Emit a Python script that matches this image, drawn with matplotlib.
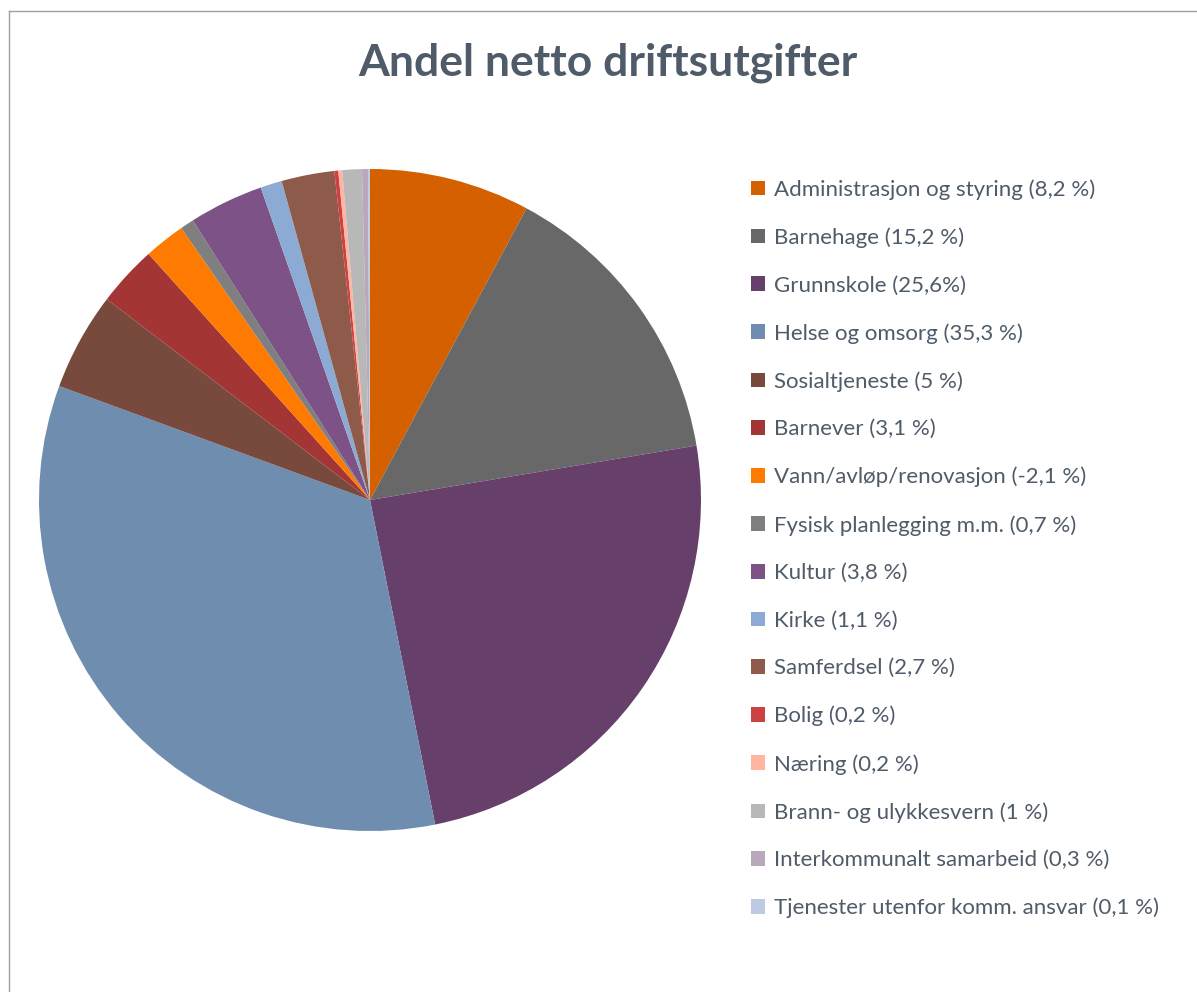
import matplotlib.pyplot as plt
from matplotlib.patches import Patch
import numpy as np

labels = ['Administrasjon og styring (8,2 %)', 'Barnehage (15,2 %)', 'Grunnskole (25,6%)',
          'Helse og omsorg (35,3 %)', 'Sosialtjeneste (5 %)', 'Barnever (3,1 %)',
          'Vann/avløp/renovasjon (-2,1 %)', 'Fysisk planlegging m.m. (0,7 %)', 'Kultur (3,8 %)',
          'Kirke (1,1 %)', 'Samferdsel (2,7 %)', 'Bolig (0,2 %)', 'Næring (0,2 %)',
          'Brann- og ulykkesvern (1 %)', 'Interkommunalt samarbeid (0,3 %)',
          'Tjenester utenfor komm. ansvar (0,1 %)']
# pie uses absolute size, the negative one is drawn as 2,1
values = [8.2, 15.2, 25.6, 35.3, 5, 3.1, 2.1, 0.7, 3.8, 1.1, 2.7, 0.2, 0.2, 1, 0.3, 0.1]
colors = ['#D46000', '#686868', '#673F6B', '#6F8DAF', '#774A3D', '#A33535', '#FF7A00',
          '#7F7F7F', '#7C5287', '#8CABD4', '#8E5B4A', '#CC4242', '#FFB5A0', '#B8B8B8',
          '#B9A7BB', '#BCCAE3']

textcol = '#4F5B69'
plt.rcParams['font.family'] = ['Lato', 'DejaVu Sans']

fig = plt.figure(figsize=(11.97, 9.92), dpi=100)

# frame, only left and top edges visible like the cropped original
fig.add_artist(plt.Line2D([9/1197, 9/1197], [0, 1 - 11/992], transform=fig.transFigure,
                          color='#A0A0A0', lw=1))
fig.add_artist(plt.Line2D([9/1197, 1], [1 - 11/992, 1 - 11/992], transform=fig.transFigure,
                          color='#A0A0A0', lw=1))

fig.text(608/1197, 1 - 63/992, 'Andel netto driftsutgifter', ha='center', va='center',
         fontsize=32, fontweight='bold', color=textcol)

ax = fig.add_axes([39/1197, (992-831)/992, 662/1197, 662/992])
ax.pie(values, colors=colors, startangle=90, counterclock=False, radius=1)
ax.set_xlim(-1, 1)
ax.set_ylim(-1, 1)
ax.set_aspect('equal')
ax.axis('off')

handles = [Patch(facecolor=c, edgecolor='none') for c in colors]
fig.legend(handles, labels, loc='upper left', bbox_to_anchor=(740/1197, 1 - 168/992),
           frameon=False, fontsize=16, labelcolor=textcol, handlelength=0.63,
           handleheight=0.63, handletextpad=0.4, labelspacing=1.24, borderpad=0)

fig.savefig('out.png', dpi=100)
